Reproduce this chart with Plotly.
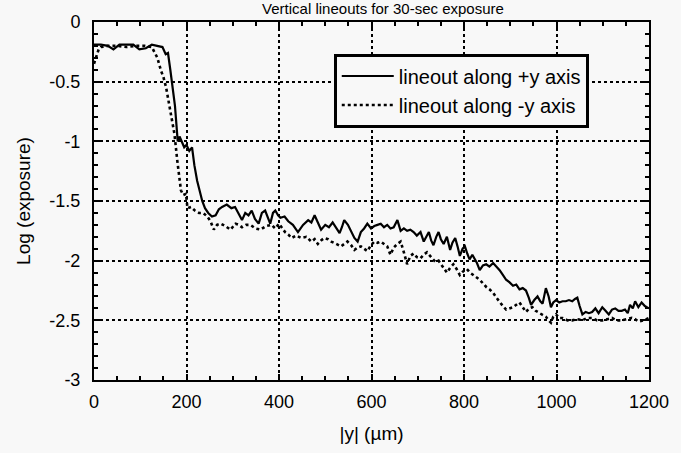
import plotly.graph_objects as go

# +y lineout (solid)
x_pos = [0, 15, 30, 42, 55, 70, 85, 98, 112, 125,
         140, 148, 155, 160, 165, 170, 175, 178, 181, 185,
         190, 195, 200, 206, 212, 217, 223, 228, 234, 240,
         247, 255, 263, 270, 277, 287, 297, 305, 312, 320,
         327, 334, 341, 348, 356, 363, 370, 376, 381, 387,
         392, 398, 403, 412, 420, 430, 441, 452, 463, 470,
         477, 484, 491, 500, 508, 516, 524, 531, 536, 541,
         549, 556, 563, 570, 577, 584, 591, 599, 606, 613,
         620, 627, 634, 641, 648, 656, 663, 670, 677, 684,
         691, 698, 706, 713, 718, 724, 729, 734, 740, 745,
         750, 756, 763, 770, 775, 781, 786, 791, 797, 802,
         807, 812, 818, 823, 828, 834, 841, 848, 855, 863,
         870, 877, 884, 891, 898, 906, 913, 920, 927, 934,
         940, 945, 952, 959, 965, 970, 977, 983, 988, 993,
         999, 1006, 1013, 1020, 1027, 1034, 1040, 1045, 1050, 1056,
         1063, 1070, 1077, 1084, 1091, 1099, 1106, 1113, 1120, 1127,
         1134, 1141, 1148, 1154, 1159, 1165, 1170, 1177, 1184, 1191,
         1200]
y_pos = [-0.19, -0.19, -0.2, -0.23, -0.19, -0.19, -0.19, -0.23, -0.22, -0.19,
         -0.2, -0.21, -0.27, -0.26, -0.4, -0.55, -0.7, -0.85, -1.0, -0.96,
         -1.0, -1.05, -1.03, -1.08, -1.05, -1.2, -1.33, -1.4, -1.5, -1.56,
         -1.6, -1.63, -1.62, -1.57, -1.55, -1.53, -1.56, -1.55, -1.6, -1.66,
         -1.6, -1.62, -1.58, -1.65, -1.69, -1.6, -1.58, -1.65, -1.69, -1.6,
         -1.58, -1.62, -1.64, -1.63, -1.67, -1.7, -1.76, -1.7, -1.66, -1.68,
         -1.62, -1.68, -1.74, -1.7, -1.72, -1.68, -1.73, -1.77, -1.72, -1.66,
         -1.7, -1.76, -1.81, -1.84, -1.76, -1.73, -1.69, -1.73, -1.71, -1.7,
         -1.69, -1.72, -1.7, -1.73, -1.72, -1.66, -1.75, -1.73, -1.75, -1.74,
         -1.76, -1.79, -1.76, -1.84, -1.8, -1.76, -1.83, -1.87, -1.8, -1.76,
         -1.82, -1.86, -1.8, -1.91, -1.85, -1.81, -1.88, -1.96, -1.9, -1.88,
         -1.94, -1.99, -1.95, -1.98, -2.02, -2.08, -2.04, -2.03, -2.05, -2.02,
         -2.05, -2.08, -2.12, -2.16, -2.18, -2.21, -2.2, -2.24, -2.23, -2.25,
         -2.31, -2.37, -2.33, -2.3, -2.34, -2.36, -2.23, -2.3, -2.39, -2.35,
         -2.33, -2.35, -2.34, -2.34, -2.33, -2.34, -2.32, -2.31, -2.38, -2.45,
         -2.43, -2.44, -2.43, -2.4, -2.44, -2.39, -2.42, -2.45, -2.41, -2.4,
         -2.42, -2.42, -2.41, -2.44, -2.37, -2.4, -2.34, -2.39, -2.35, -2.38,
         -2.4]

# -y lineout (dotted)
x_neg = [0, 5, 10, 15, 30, 50, 70, 90, 110, 125,
         137, 145, 150, 156, 163, 168, 174, 180, 184, 188,
         193, 199, 202, 210, 218, 227, 236, 245, 252, 259,
         266, 274, 284, 295, 306, 313, 320, 329, 338, 349,
         360, 372, 384, 392, 400, 413, 420, 427, 437, 448,
         459, 470, 477, 484, 491, 498, 506, 513, 524, 534,
         541, 548, 556, 563, 570, 577, 584, 591, 599, 606,
         613, 620, 627, 634, 641, 648, 656, 663, 670, 677,
         684, 691, 698, 706, 713, 720, 729, 738, 745, 756,
         763, 770, 777, 784, 791, 798, 806, 813, 820, 827,
         834, 841, 848, 855, 863, 870, 877, 884, 891, 898,
         906, 913, 920, 927, 934, 941, 948, 955, 963, 970,
         977, 983, 988, 993, 999, 1006, 1013, 1024, 1034, 1045,
         1056, 1066, 1077, 1088, 1099, 1110, 1120, 1130, 1141, 1152,
         1163, 1170, 1177, 1188, 1200]
y_neg = [-0.35, -0.28, -0.23, -0.21, -0.2, -0.2, -0.21, -0.2, -0.2, -0.21,
         -0.3, -0.41, -0.46, -0.55, -0.69, -0.8, -0.94, -1.16, -1.3, -1.41,
         -1.45, -1.44, -1.56, -1.55, -1.58, -1.6, -1.6, -1.63, -1.67, -1.74,
         -1.7, -1.69, -1.71, -1.74, -1.69, -1.7, -1.72, -1.7, -1.7, -1.73,
         -1.74, -1.71, -1.7, -1.73, -1.69, -1.76, -1.78, -1.81, -1.79, -1.81,
         -1.8, -1.84, -1.82, -1.86, -1.83, -1.81, -1.82, -1.84, -1.86, -1.88,
         -1.86, -1.84, -1.87, -1.91, -1.89, -1.88, -1.9, -1.92, -1.87, -1.84,
         -1.85, -1.84, -1.86, -1.88, -1.95, -1.89, -1.86, -1.84, -1.93, -2.03,
         -1.96, -1.94, -1.97, -1.98, -1.95, -1.93, -1.97, -2.01, -2.0, -2.06,
         -2.1, -2.06, -2.03, -2.07, -2.12, -2.09, -2.07, -2.1, -2.12, -2.14,
         -2.16, -2.19, -2.22, -2.24, -2.27, -2.31, -2.35, -2.38, -2.41, -2.4,
         -2.39, -2.37, -2.35, -2.39, -2.43, -2.4, -2.39, -2.42, -2.44, -2.45,
         -2.47, -2.5, -2.52, -2.47, -2.45, -2.48, -2.48, -2.5, -2.5, -2.49,
         -2.5, -2.48, -2.48, -2.5, -2.5, -2.49, -2.48, -2.5, -2.5, -2.49,
         -2.48, -2.49, -2.51, -2.5, -2.48]

# tick labels (hyphen minus as in the original)
x_tickvals = [0, 200, 400, 600, 800, 1000, 1200]
x_ticktext = ["0", "200", "400", "600", "800", "1000", "1200"]
y_tickvals = [0, -0.5, -1, -1.5, -2, -2.5, -3]
y_ticktext = ["0", "-0.5", "-1", "-1.5", "-2", "-2.5", "-3"]

assert len(x_pos) == len(y_pos)
assert len(x_neg) == len(y_neg)

FONT = "Liberation Sans"
BG = "#f8f8f8"

fig = go.Figure()
fig.add_trace(go.Scatter(x=x_pos, y=y_pos, mode="lines", name="lineout along +y axis",
                         line=dict(color="black", width=2.2)))
fig.add_trace(go.Scatter(x=x_neg, y=y_neg, mode="lines", name="lineout along -y axis",
                         line=dict(color="black", width=2.6, dash="dot")))

axis_common = dict(
    showline=True, linecolor="black", linewidth=2, mirror="ticks",
    ticks="inside", ticklen=6, tickwidth=2, tickcolor="black",
    showgrid=True, gridcolor="black", gridwidth=2, griddash="dot",
    zeroline=False,
    tickfont=dict(family=FONT, size=18, color="black"),
)

fig.update_xaxes(range=[0, 1200], tickmode="array", tickvals=x_tickvals, ticktext=x_ticktext,
                 ticklabelstandoff=4,
                 minor=dict(dtick=50, tick0=0, ticks="inside", ticklen=4, tickwidth=1.5,
                            tickcolor="black", showgrid=False),
                 title=dict(text="|y| (µm)", font=dict(family=FONT, size=19, color="black"),
                            standoff=16),
                 **axis_common)
fig.update_yaxes(range=[-3, 0], tickmode="array", tickvals=y_tickvals, ticktext=y_ticktext,
                 ticklabelstandoff=8,
                 minor=dict(dtick=0.1, tick0=0, ticks="inside", ticklen=4, tickwidth=1.5,
                            tickcolor="black", showgrid=False),
                 title=dict(text="Log (exposure)", font=dict(family=FONT, size=19, color="black"),
                            standoff=14),
                 **axis_common)

fig.update_layout(
    width=681, height=453,
    margin=dict(l=94, r=27, t=21, b=72),
    paper_bgcolor=BG, plot_bgcolor=BG,
    title=dict(text="Vertical lineouts for 30-sec exposure",
               font=dict(family=FONT, size=15, color="black"),
               x=383 / 681, xanchor="center", yref="container", y=1.0, yanchor="top",
               pad=dict(t=3, b=0)),
    showlegend=True,
    legend=dict(x=0.432, y=0.912, xanchor="left", yanchor="top",
                bgcolor=BG, bordercolor="black", borderwidth=3,
                font=dict(family=FONT, size=20, color="black"),
                itemwidth=52, tracegroupgap=0),
)

fig.write_html("out.html")
